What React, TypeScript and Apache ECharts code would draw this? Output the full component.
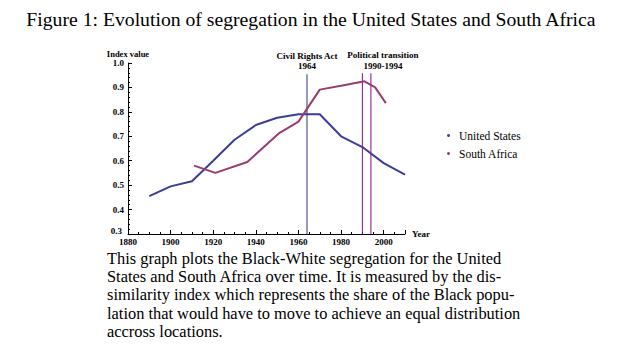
import React, { useEffect, useRef } from "react";
import * as echarts from "echarts";

const TITLE = "Figure 1: Evolution of segregation in the United States and South Africa";
const CAPTION_LINES = [
  "This graph plots the Black-White segregation for the United",
  "States and South Africa over time. It is measured by the dis-",
  "similarity index which represents the share of the Black popu-",
  "lation that would have to move to achieve an equal distribution",
  "accross locations.",
];

const usYears = [1890, 1900, 1910, 1920, 1930, 1940, 1950, 1960, 1970, 1980, 1990, 2000, 2010];
const usValues = [0.455, 0.495, 0.516, 0.6, 0.686, 0.746, 0.776, 0.79, 0.79, 0.7, 0.656, 0.59, 0.543];

const saYears = [1911, 1921, 1936, 1951, 1960, 1970, 1980, 1991, 1996, 2001];
const saValues = [0.58, 0.55, 0.595, 0.713, 0.76, 0.891, 0.907, 0.925, 0.9, 0.836];

const civilRightsYear = 1964;
const transitionYears = [1990, 1994];
const eventTop = 0.958;

const US_COLOR = "#3d3d99";
const SA_COLOR = "#993d71";
const EVENT_US = "#33337f";
const EVENT_SA = "#8a0a8a";

const SERIF = "'Liberation Serif', 'Times New Roman', serif";

export default function App() {
  const ref = useRef<HTMLDivElement>(null);

  useEffect(() => {
    document.body.style.margin = "0";
    const chart = echarts.init(ref.current!, null, { renderer: "svg" });

    const usData = usYears.map((y, i) => [y, usValues[i]]);
    const saData = saYears.map((y, i) => [y, saValues[i]]);

    const eventLabel = {
      show: true,
      position: "top",
      distance: 2,
      color: "#000",
      opacity: 1,
      fontFamily: SERIF,
      fontWeight: "bold",
      fontSize: 9,
      lineHeight: 10.5,
      align: "center",
    };

    const option: any = {
      animation: false,
      backgroundColor: "#fff",
      grid: { left: 128, right: 218, top: 63, bottom: 126 },
      legend: {
        data: ["United States", "South Africa"],
        orient: "vertical",
        left: 442,
        top: 124,
        itemWidth: 3,
        itemHeight: 3,
        itemGap: 5,
        icon: "circle",
        textStyle: {
          fontFamily: SERIF,
          fontSize: 11.5,
          color: "#000",
          lineHeight: 13,
          padding: [0, 0, 0, 4],
        },
      },
      xAxis: {
        type: "value",
        min: 1880,
        max: 2010,
        interval: 20,
        name: "Year",
        nameLocation: "end",
        nameGap: 7,
        nameTextStyle: { fontFamily: SERIF, fontWeight: "bold", fontSize: 9, color: "#000" },
        axisLine: { lineStyle: { color: "#000", width: 1 } },
        axisTick: { inside: true, length: 4, lineStyle: { color: "#000" } },
        minorTick: { show: true, splitNumber: 4, length: 2, lineStyle: { color: "#000" } },
        axisLabel: {
          fontFamily: SERIF,
          fontWeight: "bold",
          fontSize: 9,
          color: "#000",
          margin: 3,
          formatter: (v: number) => (v % 20 === 0 ? String(v) : ""),
        },
        splitLine: { show: false },
      },
      yAxis: {
        type: "value",
        min: 0.3,
        max: 1.0,
        interval: 0.1,
        name: "Index value",
        nameLocation: "end",
        nameGap: 5,
        nameTextStyle: { fontFamily: SERIF, fontWeight: "bold", fontSize: 8.5, color: "#000" },
        axisLine: { show: true, lineStyle: { color: "#000", width: 1 } },
        axisTick: { show: true, inside: true, length: 4, lineStyle: { color: "#000" } },
        minorTick: { show: true, splitNumber: 5, length: 2, lineStyle: { color: "#000" } },
        axisLabel: {
          fontFamily: SERIF,
          fontWeight: "bold",
          fontSize: 9,
          color: "#000",
          margin: 4,
          formatter: (v: number) => (Math.abs(v - 0.3) < 1e-6 ? "{low|0.3}" : v.toFixed(1)),
          rich: {
            low: {
              fontFamily: SERIF,
              fontWeight: "bold",
              fontSize: 9,
              color: "#000",
              padding: [0, 2, 6, 0],
            },
          },
        },
        splitLine: { show: false },
      },
      series: [
        {
          name: "United States",
          type: "line",
          data: usData,
          symbol: "none",
          color: US_COLOR,
          lineStyle: { color: US_COLOR, width: 2 },
          z: 3,
        },
        {
          name: "South Africa",
          type: "line",
          data: saData,
          symbol: "none",
          color: SA_COLOR,
          lineStyle: { color: SA_COLOR, width: 2 },
          z: 3,
        },
        {
          name: "Civil Rights Act",
          type: "line",
          symbol: "none",
          lineStyle: { color: EVENT_US, width: 1 },
          data: [
            [civilRightsYear, 0.3],
            [civilRightsYear, eventTop - 0.004],
          ],
          z: 2,
        },
        {
          name: "Transition start",
          type: "line",
          symbol: "none",
          lineStyle: { color: EVENT_SA, width: 1 },
          data: [
            [transitionYears[0], 0.3],
            [transitionYears[0], eventTop],
          ],
          z: 2,
        },
        {
          name: "Transition end",
          type: "line",
          symbol: "none",
          lineStyle: { color: EVENT_SA, width: 1 },
          data: [
            [transitionYears[1], 0.3],
            [transitionYears[1], eventTop],
          ],
          z: 2,
        },
        {
          name: "Event labels",
          type: "scatter",
          symbolSize: 1,
          itemStyle: { color: "rgba(0,0,0,0)" },
          silent: true,
          data: [
            { value: [civilRightsYear, eventTop - 0.004], label: { ...eventLabel, formatter: "Civil Rights Act\n1964" } },
            {
              value: [transitionYears[1], eventTop],
              label: { ...eventLabel, offset: [12, 0], formatter: "Political transition\n1990-1994" },
            },
          ],
          z: 4,
        },
      ],
      graphic: [
        {
          type: "text",
          left: "center",
          top: 9,
          style: { text: TITLE, fontFamily: SERIF, fontSize: 19.7, fill: "#000" },
        },
        ...CAPTION_LINES.map((line, i) => ({
          type: "text",
          left: 107,
          top: 250 + i * 18.4,
          style: { text: line, fontFamily: SERIF, fontSize: 16.4, fill: "#000" },
        })),
      ],
    };

    chart.setOption(option);
    return () => chart.dispose();
  }, []);

  return <div ref={ref} style={{ width: 623, height: 360 }} />;
}
